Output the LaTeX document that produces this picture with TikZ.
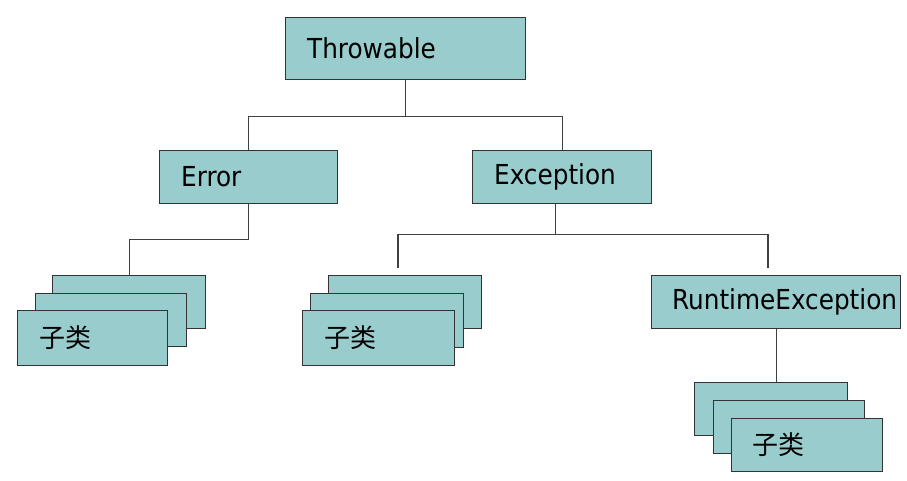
\documentclass[tikz,border=0pt]{standalone}
\usepackage{fontspec}
\setmainfont{DejaVu Sans Condensed}
\newfontfamily\cjk{Noto Sans CJK SC}
\definecolor{boxfill}{HTML}{99CCCC}
\definecolor{edge}{HTML}{333333}
\definecolor{wire}{HTML}{404040}
\tikzset{
  box/.style={draw=edge, fill=boxfill, line width=1.3pt, rectangle, anchor=north west, inner sep=0pt},
  lbl/.style={anchor=west, inner sep=0pt, font=\fontsize{27.5}{31}\selectfont, text=black},
  clbl/.style={anchor=west, inner sep=0pt, font=\cjk\fontsize{26}{29}\selectfont, text=black},
  wirestyle/.style={draw=wire, line width=1.2pt}
}
\begin{document}
\begin{tikzpicture}[x=1pt,y=-1pt]
\useasboundingbox (0,0) rectangle (907,481);
% top level
\node[box, minimum width=240pt, minimum height=62pt] (throw) at (285,17) {};
\node[lbl] (tThrow) at (307,48) {Throwable};
% second level
\node[box, minimum width=178pt, minimum height=53pt] (err) at (159,150) {};
\node[lbl] (tErr) at (181,177) {Error};
\node[box, minimum width=179pt, minimum height=53pt] (exc) at (472,150) {};
\node[lbl] (tExc) at (494,177) {Exception};
% Error subclasses stack
\node[box, minimum width=153pt, minimum height=53pt] (e1b) at (52,275) {};
\node[box, minimum width=151pt, minimum height=53pt] (e1m) at (35,293) {};
\node[box, minimum width=150pt, minimum height=55pt] (e1f) at (17,310) {};
\node[clbl] (tE1) at (39,338) {子类};
% Exception subclasses stack
\node[box, minimum width=153pt, minimum height=53pt] (x1b) at (328,275) {};
\node[box, minimum width=153pt, minimum height=54pt] (x1m) at (310,293) {};
\node[box, minimum width=152pt, minimum height=55pt] (x1f) at (302,310) {};
\node[clbl] (tX1) at (324,338) {子类};
% RuntimeException
\node[box, minimum width=249pt, minimum height=53pt] (rt) at (651,275) {};
\node[lbl] (tRt) at (672,302) {RuntimeException};
% Runtime subclasses stack
\node[box, minimum width=153pt, minimum height=53pt] (r1b) at (694,382) {};
\node[box, minimum width=151pt, minimum height=53pt] (r1m) at (713,400) {};
\node[box, minimum width=151pt, minimum height=53pt] (r1f) at (731,418) {};
\node[clbl] (tR1) at (752,445) {子类};
% connectors
\coordinate (excL) at (398,268);
\coordinate (excR) at (768,268);
\draw[wirestyle] (throw.south) -- ++(0,36) coordinate (tj) -| (err.north);
\draw[wirestyle] (tj) -| (exc.north);
\draw[wirestyle] (err.south) -- ++(0,35) -| (e1b.north);
\draw[wirestyle] ([xshift=-7pt]exc.south) -- ++(0,30) coordinate (ej) -| (excL);
\draw[wirestyle] (ej) -| (excR);
\draw[wirestyle] (rt.south) -- (rt.south |- r1b.north);
\end{tikzpicture}
\end{document}
